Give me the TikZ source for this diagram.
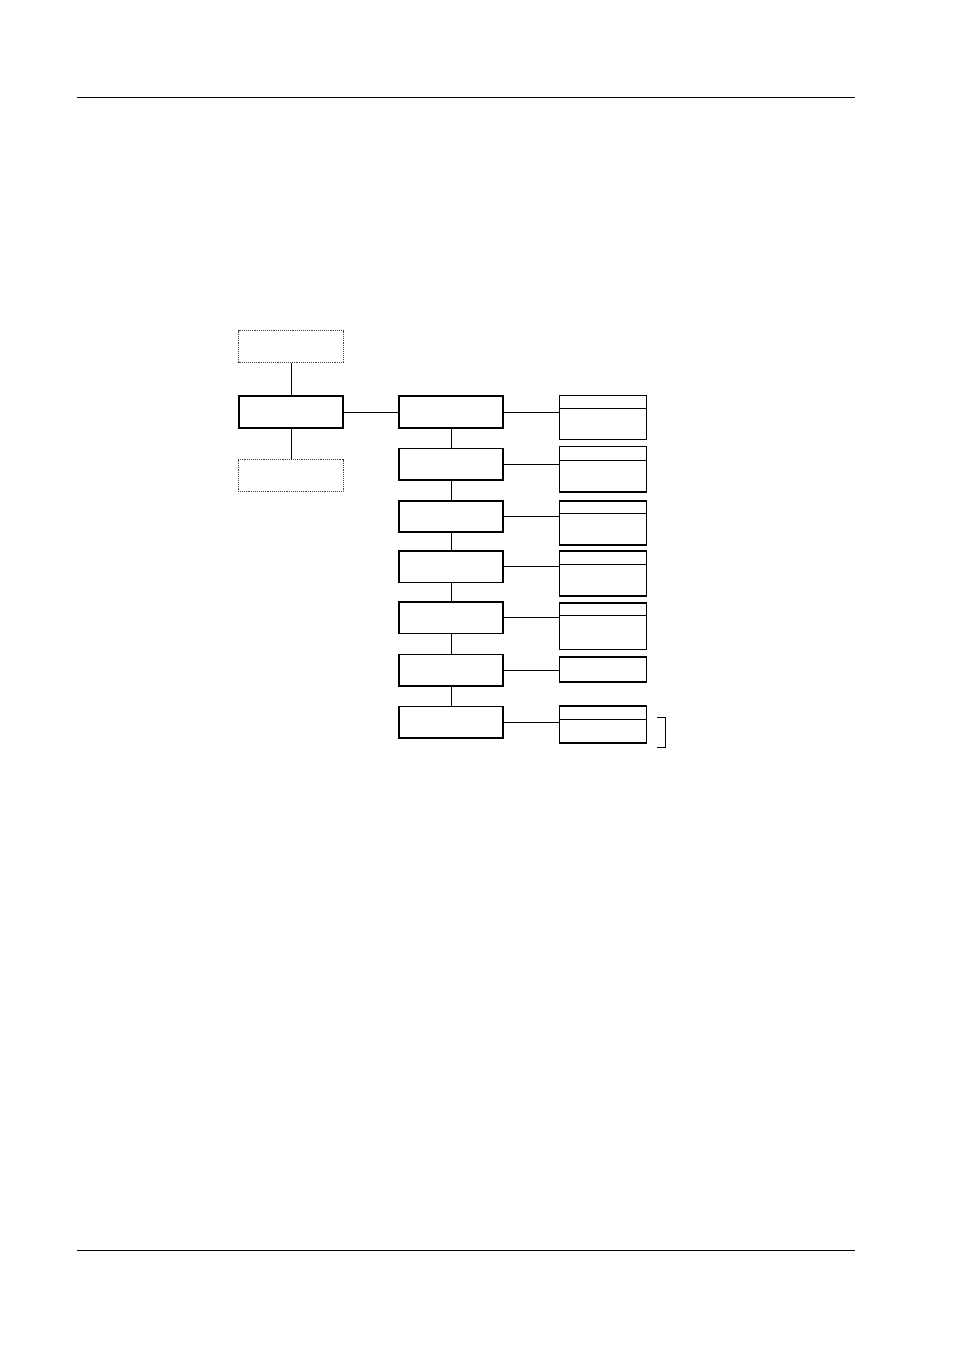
\documentclass[tikz,border=0pt]{standalone}
\begin{document}
\begin{tikzpicture}[x = 1pt, y = -1pt,
	block/.style = {draw, line width = 1.7pt, minimum width = 104pt, minimum height = 31.5pt, inner sep = 0pt},
	ghost/.style = {draw = black!75, densely dotted, line width = 0.9pt, minimum width = 105pt, minimum height = 32pt, inner sep = 0pt},
	panel/.style = {draw, line width = 1.7pt, minimum width = 87pt, inner sep = 0pt},
	link/.style = {line width = 0.9pt}]
	
	% Page w rules
	
	\fill [white] (0, 0) rectangle (954, 1351);
	\useasboundingbox (0, 0) rectangle (954, 1351);
	
	\draw [line width = 1pt] (77, 98) -- (855, 98);
	\draw [line width = 1pt] (77, 1250.5) -- (855, 1250.5);
	
	% Left blocks
	
	\node [block] (main) at (291, 412) {};
	\node [ghost] (upper) at (291, 346.8) {};
	\node [ghost] (lower) at (290.5, 475.7) {};
	
	\draw [link] (main.north) -- (main.north |- upper.south);
	\draw [link] (main.south) -- (main.south |- lower.north);
	
	% Middle column
	
	\foreach \n/\y in {1/412, 2/464.3, 3/516.5, 4/566.8, 5/617.8, 6/670.3, 7/722.3}
		\node [block] (c\n) at (451, \y) {};
	
	\draw [link] (main) -- (c1);
	
	\foreach \a/\b in {1/2, 2/3, 3/4, 4/5, 5/6, 6/7}
		\draw [link] (c\a) -- (c\b);
	
	% Right panels w dividers
	
	\foreach \n/\y/\h in {1/417.5/44, 2/469.3/45.5, 3/523.2/44, 4/573.8/45, 5/626.2/46.5, 6/669.5/24.5, 7/724.8/37}
		\node [panel, minimum height = \h pt] (r\n) at (603, \y) {};
	
	\foreach \n/\d in {1/13.5, 2/15, 3/13.5, 4/13.5, 5/13.5, 7/13.5}
		\draw [link] ([yshift = -\d pt] r\n.north west) -- ([yshift = -\d pt] r\n.north east);
	
	\foreach \n in {1, ..., 7}
		\draw [link] (c\n) -- (c\n -| r\n.west);
	
	% Bracket
	
	\draw [link] (657, 717.3) -- (665, 717.3) -- (665, 747.3) -- (657, 747.3);
	
\end{tikzpicture}
\end{document}
